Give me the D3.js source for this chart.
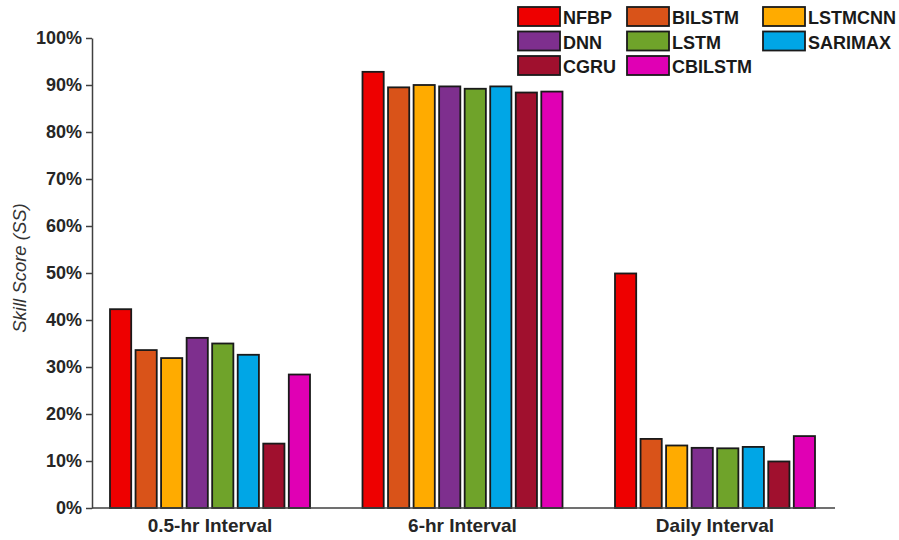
<!DOCTYPE html>
<html><head><meta charset="utf-8">
<script src="https://cdn.jsdelivr.net/npm/d3@7"></script>
<style>body{margin:0;background:#fff}svg{display:block}text{font-family:"Liberation Sans",Arial,sans-serif}</style>
</head><body><svg id="c" width="899" height="540"></svg>
<script>
const categories = ["0.5-hr Interval","6-hr Interval","Daily Interval"];
const models = ["NFBP","BILSTM","LSTMCNN","DNN","LSTM","SARIMAX","CGRU","CBILSTM"];
const colors = ["#ee0000","#d95319","#ffab00","#7e2f8e","#6fa32a","#00a6e6","#a0102e","#e000b4"];
const NFBP    = [42.3, 92.8, 49.9];
const BILSTM  = [33.6, 89.5, 14.7];
const LSTMCNN = [31.9, 90.0, 13.3];
const DNN     = [36.2, 89.7, 12.8];
const LSTM    = [35.0, 89.2, 12.7];
const SARIMAX = [32.6, 89.7, 13.0];
const CGRU    = [13.7, 88.4, 9.9];
const CBILSTM = [28.4, 88.6, 15.3];
const yTicks = [0,10,20,30,40,50,60,70,80,90,100];
const series = [NFBP,BILSTM,LSTMCNN,DNN,LSTM,SARIMAX,CGRU,CBILSTM];

const svg = d3.select("#c");
const axisLeft = 92, axisRight = 835;
const y = d3.scaleLinear().domain([0,100]).range([508,38]);
const x = d3.scaleLinear().domain([0,2]).range([210,715]);
const inner = d3.scaleBand().domain(models).range([-100,100]).paddingInner(0.17);

// bars
categories.forEach((c,ci)=>{
  const g = svg.append("g");
  models.forEach((m,mi)=>{
    const v = series[mi][ci];
    g.append("rect")
      .attr("x", x(ci)+inner(m))
      .attr("y", y(v))
      .attr("width", inner.bandwidth())
      .attr("height", y(0)-y(v))
      .attr("fill", colors[mi])
      .attr("stroke","#1a1a1a").attr("stroke-width",1.8);
  });
});

// y axis
const ya = svg.append("g").attr("transform",`translate(${axisLeft},0)`)
  .call(d3.axisLeft(y).tickValues(yTicks).tickFormat(d=>d+"%").tickSize(6).tickSizeOuter(0));
ya.select(".domain").attr("stroke","#404040").attr("stroke-width",1.5);
ya.selectAll(".tick line").attr("stroke","#404040").attr("stroke-width",1.5);
ya.selectAll(".tick text").attr("font-size",18).attr("font-weight","bold").attr("fill","#262626").attr("x",-10)
  .attr("font-family","Liberation Sans, Arial, sans-serif");

// x axis line
svg.append("line").attr("x1",axisLeft).attr("x2",axisRight).attr("y1",y(0)).attr("y2",y(0))
  .attr("stroke","#404040").attr("stroke-width",1.5);
svg.selectAll(".xl").data(categories).enter().append("text")
  .attr("x",(d,i)=>x(i)).attr("y",532).attr("text-anchor","middle")
  .attr("font-size",19).attr("font-weight","bold").attr("fill","#262626").text(d=>d);

// y title
svg.append("text").attr("transform","translate(26,268) rotate(-90)")
  .attr("text-anchor","middle").attr("font-size",18.5).attr("font-style","italic")
  .attr("fill","#333").text("Skill Score (SS)");

// legend
const colX = [518,627,763], rowY = [7,31.5,56];
models.forEach((m,i)=>{
  const r = Math.floor(i/3), c = i%3;
  const g = svg.append("g").attr("transform",`translate(${colX[c]},${rowY[r]})`);
  g.append("rect").attr("width",42).attr("height",19).attr("fill",colors[i])
    .attr("stroke","#1a1a1a").attr("stroke-width",1.8);
  g.append("text").attr("x",45).attr("y",17).attr("font-size",18).attr("font-weight","bold")
    .attr("fill","#1a1a1a").text(m);
});
</script></body></html>
